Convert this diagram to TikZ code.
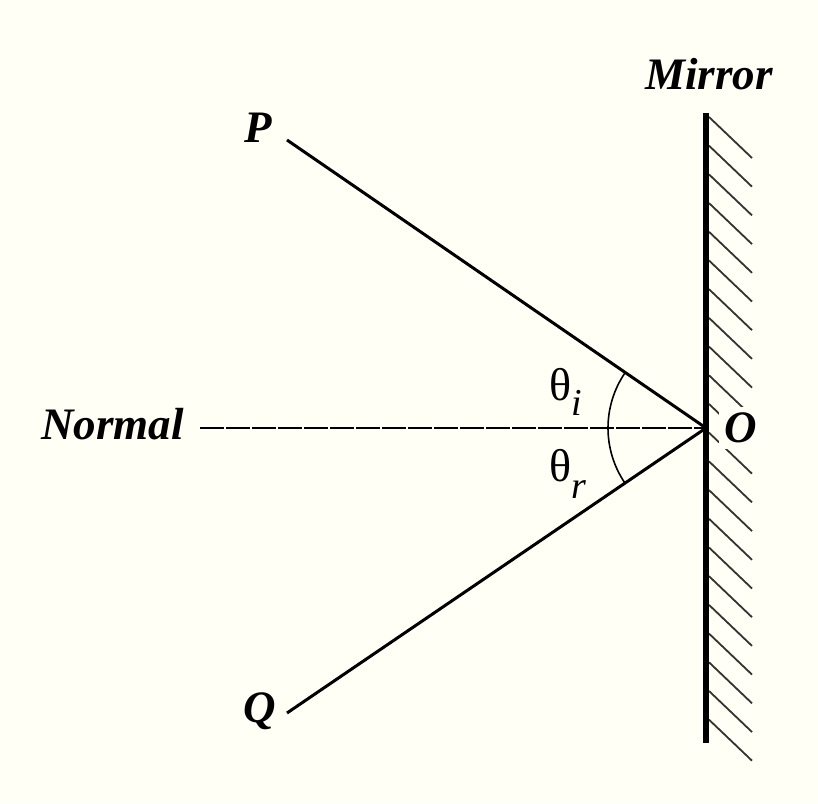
\documentclass[tikz,border=0pt]{standalone}
\usepackage{fontspec}
\setmainfont{Liberation Serif}
\usetikzlibrary{calc}
\definecolor{bgcol}{RGB}{255,255,245}
\tikzset{
  lbl/.style={font=\fontsize{22.5}{26}\selectfont\bfseries\itshape, inner sep=0pt},
  glbl/.style={font=\fontsize{23}{26}\selectfont, inner sep=0pt},
  ray/.style={line width=1.5pt},
  hatch/.style={line width=0.9pt, black!80},
  mirrorline/.style={line width=3pt},
  normalline/.style={line width=1.4pt, dash pattern=on 12pt off 1pt},
  anglearc/.style={line width=0.8pt}
}
\begin{document}
\begin{tikzpicture}[x=0.5pt,y=-0.5pt]
\fill[bgcol] (0,0) rectangle (818,803);
\useasboundingbox (0,0) rectangle (818,803);
\coordinate (O) at (706,428);
\coordinate (Pstart) at (287,140);
\coordinate (Qstart) at (287,713);
\coordinate (Nstart) at (200,428);
\coordinate (Mtop) at (706,113);
\coordinate (Mbot) at (706,743);
% hatching
\foreach \k in {0,...,21}{
  \draw[hatch] (709,{117+28.7*\k}) -- ++(43,41);
}
\node[lbl, fill=bgcol, inner sep=3pt] (Olbl) at (741,428) {O};
\draw[mirrorline] (Mtop) -- (Mbot);
\draw[normalline] (Nstart) -- (O);
\draw[ray] (Pstart) -- (O);
\draw[ray] (Qstart) -- (O);
\draw[anglearc] ($(O)+(145.5:49pt)$) arc[start angle=145.5, end angle=214.2, radius=49pt];
\node[lbl] (mirror) at (709,74) {Mirror};
\node[lbl, anchor=east] (normal) at (184,424) {Normal};
\node[lbl] (P) at (258,128) {P};
\node[lbl] (Q) at (260,711) {Q};
\node[glbl] (thi) at (566,392) {θ\raisebox{-0.32em}{\fontsize{19}{20}\selectfont\itshape i}};
\node[glbl] (thr) at (568,474) {θ\raisebox{-0.36em}{\fontsize{19}{20}\selectfont\itshape r}};
\end{tikzpicture}
\end{document}
